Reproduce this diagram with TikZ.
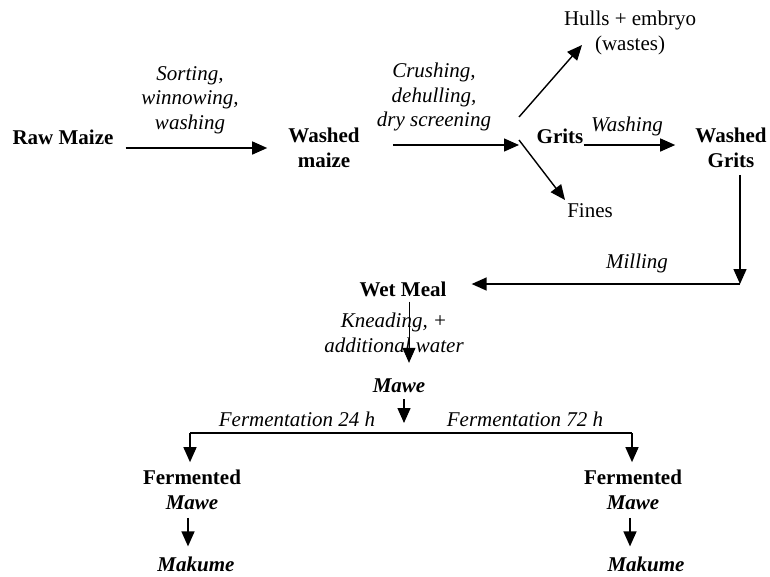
\documentclass[tikz,border=0pt]{standalone}
\usepackage{fontspec}
\setmainfont{Liberation Serif}
\usetikzlibrary{arrows.meta}

\begin{document}
\begin{tikzpicture}[x=1pt,y=-1pt,
    stage/.style={font=\bfseries, align=center, inner sep=0pt},
    step label/.style={font=\itshape, align=center, inner sep=0pt},
    plain/.style={align=center, inner sep=0pt},
    flow/.style={line width=1.4pt, -{Triangle[length=15pt,width=13pt]}},
    thinflow/.style={line width=0.8pt, -{Triangle[length=15pt,width=13pt]}}]
      \fontsize{21}{24.5}\selectfont
      \useasboundingbox (0,0) rectangle (770,576);

      % dry part
      \node[stage] (raw) at (63,137) {Raw Maize};
      \node[stage] (wmaize) at (324,148) {Washed\\maize};
      \node[step label] (sort) at (190,100) {Sorting,\\winnowing,\\washing};
      \draw[flow, shorten <=12pt, shorten >=21pt] (raw.east |- wmaize) -- (wmaize.west);

      \coordinate (split) at (519,145);
      \node[step label] (crush) at (434,97) {Crushing,\\dehulling,\\dry screening};
      \draw[flow, shorten <=33pt] (wmaize.east |- split) -- (split);

      \node[plain] (hulls) at (630,33) {Hulls + embryo\\(wastes)};
      \node[stage] (grits) at (560,136) {Grits};
      \node[plain] (fines) at (590,211) {Fines};
      \coordinate (upstart) at (519,117);
      \coordinate (uptip) at (582,45);
      \coordinate (downstart) at (519,140);
      \coordinate (downtip) at (565,200);
      \draw[flow] (upstart) -- (uptip);
      \draw[flow] (downstart) -- (downtip);

      \node[stage] (wgrits) at (731,148) {Washed\\Grits};
      \node[step label] (wash) at (627,126) {Washing};
      \draw[flow, shorten >=20pt] (grits.east |- split) -- (wgrits.west |- split);

      % wet part
      \coordinate (corner) at (740,284);
      \node[stage] (wetmeal) at (403,289) {Wet Meal};
      \node[step label] (mill) at (637,263) {Milling};
      \draw[flow, shorten <=7pt] (wgrits.south -| corner) -- (corner);
      \draw[flow, shorten >=25pt] (corner) -- (wetmeal.east |- corner);

      \node[stage] (mawe) at (399,386) {\textit{Mawe}};
      \node[step label] (knead) at (394,333) {Kneading, +\\additional water};
      \draw[thinflow, shorten <=5pt, shorten >=16pt] ([xshift=6pt]wetmeal.south) -- ([xshift=10pt]mawe.north);

      % fermentation
      \coordinate (barL) at (190,433);
      \coordinate (barM) at (404,433);
      \coordinate (barR) at (632,433);
      \draw[flow, shorten <=6pt, shorten >=10pt] (mawe.south -| barM) -- (barM);
      \draw[line width=1.4pt] (barL) -- (barR);
      \node[step label] (f24) at (297,419) {Fermentation 24 h};
      \node[step label] (f72) at (525,419) {Fermentation 72 h};

      \node[stage] (fermL) at (192,490) {Fermented\\\textit{Mawe}};
      \node[stage] (fermR) at (633,490) {Fermented\\\textit{Mawe}};
      \draw[flow, shorten >=8pt] (barL) -- (fermL.north -| barL);
      \draw[flow, shorten >=8pt] (barR) -- (fermR.north -| barR);

      \node[stage] (makL) at (196,564) {\textit{Makume}};
      \node[stage] (makR) at (646,564) {\textit{Makume}};
      \draw[flow, shorten <=8pt, shorten >=10pt] ([xshift=-4pt]fermL.south) -- ([xshift=-8pt]makL.north);
      \draw[flow, shorten <=8pt, shorten >=10pt] ([xshift=-3pt]fermR.south) -- ([xshift=-16pt]makR.north);
\end{tikzpicture}
\end{document}
